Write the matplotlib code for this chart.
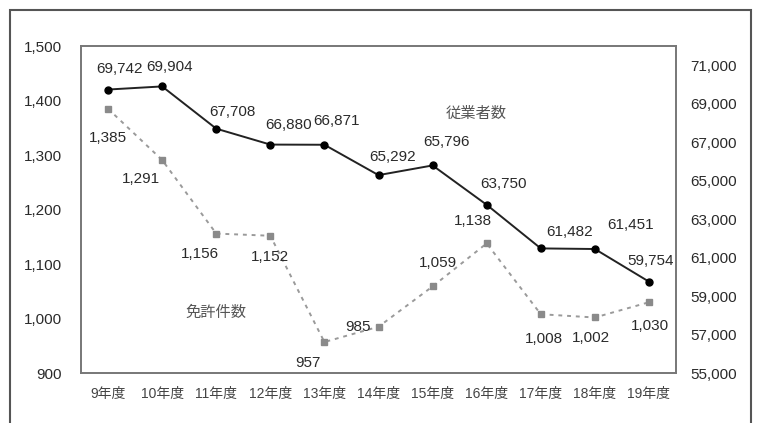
import matplotlib.pyplot as plt
from matplotlib.patches import Rectangle
from matplotlib.ticker import FuncFormatter

plt.rcParams['font.family'] = ['Liberation Sans Narrow', 'Liberation Sans', 'Noto Sans CJK JP']

# 年度別の推移
years = ['9年度', '10年度', '11年度', '12年度', '13年度', '14年度',
         '15年度', '16年度', '17年度', '18年度', '19年度']
menkyo = [1385, 1291, 1156, 1152, 957, 985, 1059, 1138, 1008, 1002, 1030]
jugyosha = [69742, 69904, 67708, 66880, 66871, 65292, 65796, 63750, 61482, 61451, 59754]

# ラベル位置の調整（ポイント単位）
menkyo_off = [(0, -21), (-15, -14), (-12, -15), (0, -15), (-12, -15), (-15, 0),
              (4, 17), (-10, 16), (2, -18), (-3, -15), (1, -17)]
jugyosha_off = [(8, 15), (5, 14), (12, 12), (13, 14), (9, 17), (10, 13),
                (10, 17), (12, 15), (21, 12), (26, 17), (1, 15)]

fig = plt.figure(figsize=(7.57, 4.23), dpi=100)
ax = fig.add_axes([0.107, 0.118, 0.786, 0.773])
ax2 = ax.twinx()

x = range(len(years))
fmt = FuncFormatter(lambda v, p: f'{int(v):,}')

ax.plot(x, menkyo, color='#9a9a9a', linestyle=(0, (2, 2.5)), linewidth=1.4,
        marker='s', markersize=5, markerfacecolor='#8a8a8a', markeredgecolor='#8a8a8a')
for i, v in enumerate(menkyo):
    ax.annotate(f'{v:,}', (i, v), xytext=menkyo_off[i], textcoords='offset points',
                ha='center', va='center', fontsize=11, color='#2a2a2a')

ax2.plot(x, jugyosha, color='#222222', linewidth=1.4, marker='o', markersize=5,
         markerfacecolor='black', markeredgecolor='black')
for i, v in enumerate(jugyosha):
    ax2.annotate(f'{v:,}', (i, v), xytext=jugyosha_off[i], textcoords='offset points',
                 ha='center', va='center', fontsize=11, color='#2a2a2a')

ax.set_xlim(-0.5, 10.5)
ax.set_ylim(900, 1500)
ax.set_yticks(range(900, 1501, 100))
ax.yaxis.set_major_formatter(fmt)
ax2.set_ylim(55000, 72000)
ax2.set_yticks(range(55000, 71001, 2000))
ax2.yaxis.set_major_formatter(fmt)

ax.set_xticks(list(x))
ax.set_xticklabels(years, fontsize=10, color='#444444')
ax.tick_params(axis='x', length=0, pad=10)
ax.tick_params(axis='y', length=0, pad=14, labelsize=11, labelcolor='#2a2a2a')
ax2.tick_params(axis='y', length=0, pad=10, labelsize=11, labelcolor='#2a2a2a')

for a in (ax, ax2):
    for s in a.spines.values():
        s.set_color('#777777')
        s.set_linewidth(1.2)

ax.text(2.0, 1010, '免許件数', fontsize=11, color='#555555', ha='center', va='center')
ax2.text(6.8, 68450, '従業者数', fontsize=11, color='#555555', ha='center', va='center')

# 外枠
fig.patches.append(Rectangle((10 / 757, -0.05), 741 / 757, 1.05 - 10 / 423,
                             transform=fig.transFigure, fill=False,
                             edgecolor='#555555', linewidth=1.5))

fig.savefig('out.png', dpi=100)
